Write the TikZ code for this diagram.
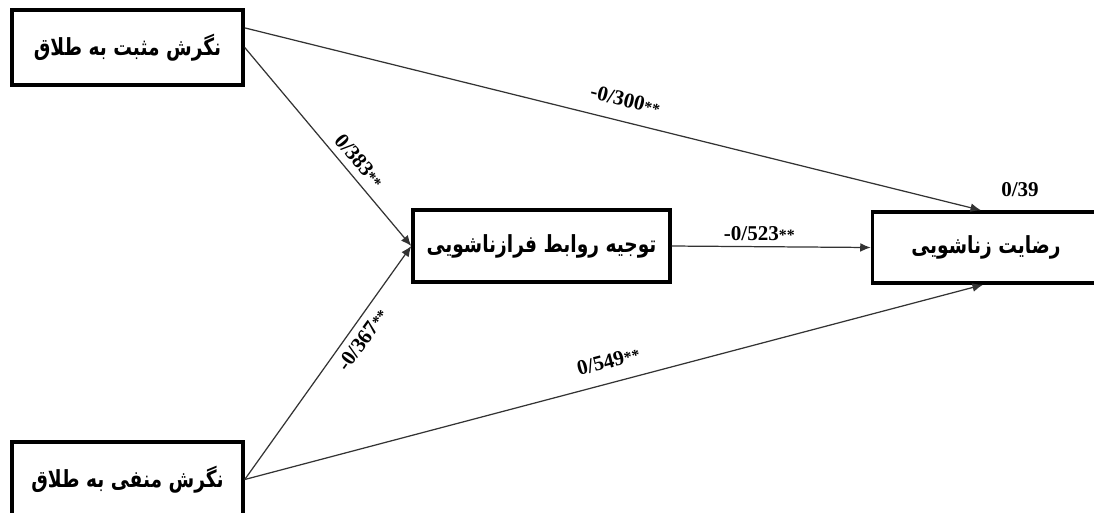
\documentclass[tikz,border=0pt]{standalone}
\usepackage{fontspec}
\setmainfont{Liberation Serif}
\newfontfamily\fa[Script=Arabic,FakeStretch=0.79]{DejaVu Sans}
\TeXXeTstate=1
\usetikzlibrary{arrows.meta,calc}
\newcommand{\st}{{\fontsize{9}{9}\selectfont**}}
\tikzset{
  box/.style={draw=black, line width=2pt, fill=white, minimum width=4.62cm, minimum height=1.5cm, inner sep=0pt,
    font=\fa\bfseries\fontsize{13.4}{15}\selectfont},
  path/.style={draw=black!80, line width=0.7pt, -{Latex[length=6pt,width=5pt]}},
  coef/.style={font=\bfseries\fontsize{12}{14}\selectfont, inner sep=1pt, text=black}
}
\begin{document}
\begin{tikzpicture}[x=0.02cm,y=-0.02cm]
\useasboundingbox (0,0) rectangle (1094,512);
\clip (0,0) rectangle (1094,512);
\fill[white] (0,0) rectangle (1094,512);
\node[box] (b1) at (127.5,47.5) {\beginR نگرش مثبت به طلاق\endR};
\node[box] (b2) at (127.5,479.5) {\beginR نگرش منفی به طلاق\endR};
\node[box, minimum width=5.14cm, minimum height=1.44cm] (b3) at (541.5,246) {\beginR توجیه روابط فرازناشویی\endR};
\node[box, minimum width=4.54cm, minimum height=1.42cm] (b4) at (986,247.5) {\beginR رضایت زناشویی\endR};
\coordinate (b1a) at ($(b1.north east)!0.25!(b1.south east)$);
\coordinate (b4n) at ($(b4.north)+(-5,0)$);
\coordinate (b4s) at ($(b4.south)+(-3,0)$);
\draw[path] (b1a) -- node[coef, sloped, above=7pt, pos=0.51] {-0/300\st} (b4n);
\draw[path] (b1.east) -- node[coef, sloped, above=3pt, pos=0.62] {0/383\st} (b3.west);
\draw[path] (b2.east) -- node[coef, sloped, below=3pt, pos=0.635] {-0/367\st} (b3.west);
\draw[path] (b2.east) -- node[coef, sloped, above=7pt, pos=0.5] {0/549\st} (b4s);
\draw[path] (b3.east) -- node[coef, above=2pt, pos=0.44] {-0/523\st} (b4.west);
\node[coef] (r2) at (1020,190) {0/39};
\end{tikzpicture}
\end{document}
